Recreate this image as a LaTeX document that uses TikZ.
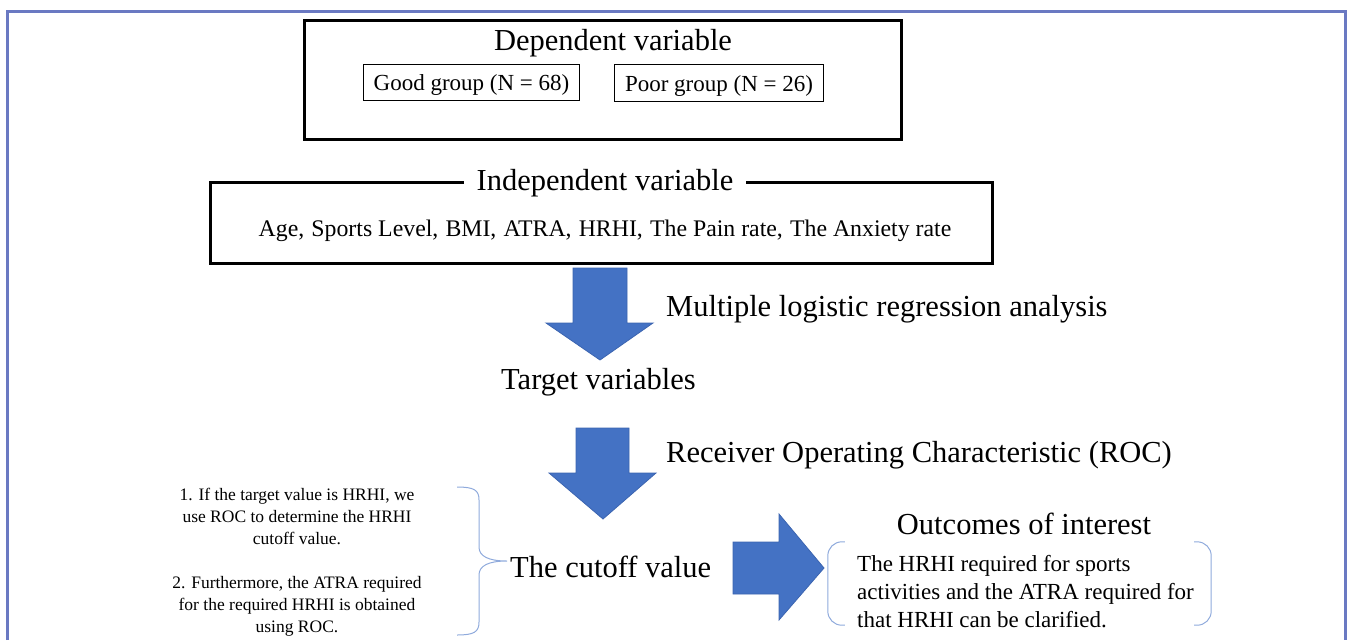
\documentclass[tikz,border=0pt]{standalone}
\usepackage{fontspec}
\setmainfont{Liberation Serif}
\definecolor{framecol}{HTML}{6A79C2}
\definecolor{arrowblue}{HTML}{4472C4}
\definecolor{arrowedge}{HTML}{3B64B0}
\definecolor{bracecol}{HTML}{8FAADC}
\newcommand{\fsbig}{\fontsize{30.5}{36}\selectfont}
\newcommand{\fsmid}{\fontsize{23}{28}\selectfont}
\newcommand{\fsvars}{\fontsize{23.8}{28}\selectfont}
\newcommand{\fssmall}{\fontsize{17.5}{22}\selectfont}
\newcommand{\csep}{,\hspace{0.3em}}
\newcommand{\lowtxt}[1]{\raisebox{0pt}[\dimexpr\height+5pt\relax][\depth]{#1}}

\begin{document}
\begin{tikzpicture}[x=1pt,y=-1pt,
  heavybox/.style={draw,line width=3pt,inner sep=0pt},
  groupbox/.style={draw,line width=1.2pt,inner sep=0pt,font=\fsmid},
  bigtext/.style={font=\fsbig,inner sep=0pt},
  blockarrow/.style={fill=arrowblue,draw=arrowedge,line width=0.8pt},
  bracketline/.style={draw=bracecol,line width=1pt,rounded corners=14pt}]
\useasboundingbox (0,0) rectangle (1348,640);
\draw[framecol,line width=3pt] (7,640) -- (7,11) -- (1345,11) -- (1345,640);
% dependent variable
\node[heavybox,minimum width=597,minimum height=119] (depbox) at (603,80) {};
\node[bigtext] (deptitle) at (613,43) {Dependent variable};
\node[groupbox,minimum width=216,minimum height=36] (good) at (471.5,82.5) {\lowtxt{Good group (N = 68)}};
\node[groupbox,minimum width=209,minimum height=37] (poor) at (719,83) {\lowtxt{Poor group (N = 26)}};
% independent variable
\node[heavybox,minimum width=782,minimum height=81] (indbox) at (601.5,223) {};
\node[bigtext,fill=white,inner xsep=13pt] (indtitle) at (605,183) {Independent variable};
\node[font=\fsvars,inner sep=0pt] (indvars) at (605,231)
  {Age\csep Sports Level\csep BMI\csep ATRA\csep HRHI\csep The Pain rate\csep The Anxiety rate};
% block arrows
\filldraw[blockarrow] (573,268) -- (627,268) -- (627,323) -- (653,323) -- (600,360) -- (546,323) -- (573,323) -- cycle;
\filldraw[blockarrow] (576,428) -- (629,428) -- (629,473) -- (656,473) -- (603,519) -- (549,473) -- (576,473) -- cycle;
\filldraw[blockarrow] (733,542) -- (779,542) -- (779,514) -- (824,568) -- (779,620) -- (779,594) -- (733,594) -- cycle;
% labels
\node[bigtext,anchor=west] (mlr) at (666,309) {Multiple logistic regression analysis};
\node[bigtext] (target) at (598.5,382) {Target variables};
\node[bigtext,anchor=west] (roc) at (666,455) {Receiver Operating Characteristic (ROC)};
\node[bigtext,anchor=west] (cutoff) at (510,567) {The cutoff value};
% notes and brace
\node[font=\fssmall,align=center,inner sep=0pt] (steps) at (297,562)
  {1. If the target value is HRHI, we\\use ROC to determine the HRHI\\cutoff value.\\[22pt]
   2. Furthermore, the ATRA required\\for the required HRHI is obtained\\using ROC.};
\coordinate (bracetop) at (457,487);
\coordinate (bracetip) at (507,561);
\coordinate (bracebot) at (457,635);
\draw[bracecol,line width=1pt] (bracetop) .. controls (474,487) and (479,490) .. (479,500)
  -- (479,547) .. controls (479,556) and (488,561) .. (bracetip)
  .. controls (488,561) and (479,566) .. (479,575)
  -- (479,622) .. controls (479,632) and (474,635) .. (bracebot);
% outcomes
\node[bigtext] (outtitle) at (1024,524) {Outcomes of interest};
\node[minimum width=383,minimum height=83,inner sep=0pt] (outbox) at (1019.5,583.5) {};
\node[font=\fsmid,align=left,anchor=west,inner sep=0pt] (outtext) at (857,592)
  {The HRHI required for sports\\activities and the ATRA required for\\that HRHI can be clarified.};
\draw[bracketline] ([xshift=17pt]outbox.north west) -- (outbox.north west) -- (outbox.south west) -- ([xshift=17pt]outbox.south west);
\draw[bracketline] ([xshift=-17pt]outbox.north east) -- (outbox.north east) -- (outbox.south east) -- ([xshift=-17pt]outbox.south east);
\end{tikzpicture}
\end{document}
